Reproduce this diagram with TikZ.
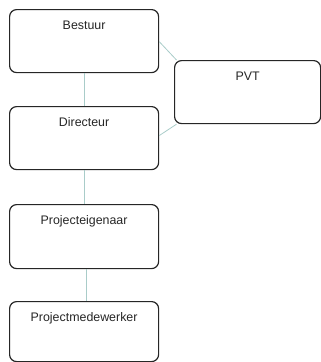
\documentclass[tikz,border=0pt]{standalone}
\usepackage{fontspec}
\setmainfont{Liberation Sans}
\definecolor{linkcol}{HTML}{A9CCC9}
\begin{document}
\begin{tikzpicture}[x=1pt,y=-1pt,
  box/.style={draw=black!85, line width=1.2pt, rounded corners=7pt, fill=white,
    anchor=north west, inner sep=0pt, text height=20pt, text depth=43pt,
    minimum width=149pt, font=\fontsize{12.4}{14}\selectfont, text=black!85},
  link/.style={draw=linkcol, line width=0.8pt}]
\useasboundingbox (0,0) rectangle (321,362);
\node[box] (B) at (9,9) {Bestuur};
\node[box] (D) at (9,106) {Directeur};
\node[box, minimum width=146pt] (PVT) at (174,60) {PVT};
\node[box, text depth=44pt] (PE) at (9,204) {Projecteigenaar};
\node[box, text depth=40pt] (PM) at (9,301) {Projectmedewerker};
\draw[link] (B.south) -- (D.north);
\draw[link] (D.south) -- (PE.north);
\draw[link] ([xshift=2.5pt]PE.south) -- ([xshift=2.5pt]PM.north);
\draw[link] ([yshift=-0.5pt]B.east) -- ([xshift=2.5pt]PVT.north west);
\draw[link] ([yshift=2.5pt]D.east) -- ([xshift=2.5pt]PVT.south west);
\end{tikzpicture}
\end{document}
